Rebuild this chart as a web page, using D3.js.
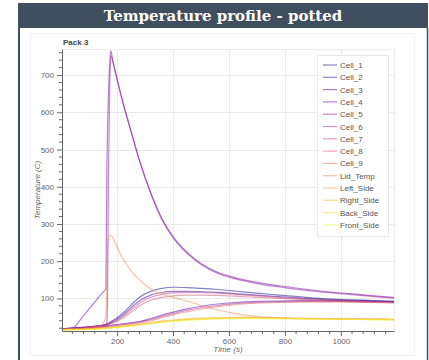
<!DOCTYPE html>
<html>
<head>
<meta charset="utf-8">
<script src="https://cdn.jsdelivr.net/npm/d3@7"></script>
<style>
  html, body { margin: 0; padding: 0; background: #ffffff; }
  svg { display: block; }
</style>
</head>
<body>
<svg id="chart" width="429" height="360"></svg>
<script>
// Sample times (s)
const times = [3, 40, 80, 120, 140, 155, 160, 163, 166, 169, 173, 177, 185, 200, 220, 250, 280, 320, 360, 400, 450, 500, 560, 620, 700, 780, 860, 950, 1040, 1120, 1190];

// Temperatures (C) per sensor
const cell1 = [18, 20, 22, 25, 27, 29, 30, 31, 32, 33, 35, 37, 41, 48, 60, 82, 103, 119, 127, 130, 129, 127, 124, 120, 114, 109, 104, 99, 96, 94, 92];
const cell2 = [18, 20, 22, 25, 27, 28, 29, 30, 31, 32, 33, 35, 38, 44, 55, 75, 94, 109, 116, 119, 119, 118, 116, 113, 109, 105, 101, 97, 95, 93, 91];
const cell3 = [17, 19, 21, 23, 24, 25, 26, 26, 27, 27, 28, 28, 29, 30, 32, 35, 38, 46, 55, 63, 72, 79, 85, 89, 92, 93, 94, 94, 93, 93, 92];
const cell4 = [18, 20, 54, 90, 108, 121, 126, 420, 560, 650, 720, 766, 738, 690, 630, 550, 472, 385, 315, 266, 224, 194, 170, 156, 143, 134, 126, 118, 112, 107, 103];
const cell5 = [18, 20, 22, 25, 27, 29, 31, 33, 120, 420, 640, 752, 734, 687, 627, 547, 469, 382, 312, 263, 221, 191, 167, 153, 140, 131, 123, 116, 110, 105, 101];
const cell6 = [17, 18, 20, 22, 23, 24, 24, 25, 25, 26, 26, 27, 27, 28, 30, 33, 36, 43, 51, 59, 68, 75, 81, 86, 89, 91, 92, 92, 92, 91, 91];
const cell7 = [17, 19, 21, 24, 26, 27, 28, 29, 30, 31, 32, 33, 36, 41, 51, 69, 87, 103, 111, 115, 116, 116, 114, 111, 107, 103, 99, 96, 93, 91, 89];
const cell8 = [17, 19, 21, 24, 25, 26, 27, 28, 29, 30, 31, 32, 34, 38, 47, 63, 80, 95, 103, 107, 109, 109, 108, 106, 103, 100, 97, 94, 91, 89, 87];
const cell9 = [16, 18, 19, 21, 22, 23, 23, 24, 24, 24, 25, 25, 26, 27, 29, 31, 34, 40, 48, 56, 64, 71, 78, 83, 87, 89, 90, 90, 90, 89, 89];
const lidTemp = [17, 18, 19, 21, 25, 40, 50, 120, 240, 258, 267, 271, 262, 238, 208, 174, 150, 126, 112, 103, 93, 81, 69, 60, 51, 48, 46, 46, 45, 44, 43];
const leftSide = [17, 17, 18, 19, 20, 21, 21, 21, 22, 22, 22, 22, 23, 24, 26, 28, 31, 35, 39, 42, 45, 47, 48, 49, 49, 48, 47, 46, 45, 45, 44];
const rightSide = [16, 17, 17, 18, 19, 20, 20, 20, 21, 21, 21, 21, 22, 23, 25, 27, 30, 34, 37, 40, 43, 45, 47, 47, 48, 47, 46, 45, 44, 44, 43];
const backSide = [16, 16, 17, 18, 19, 19, 20, 20, 20, 20, 21, 21, 22, 23, 24, 26, 29, 33, 37, 40, 43, 45, 46, 47, 47, 46, 46, 45, 44, 43, 43];
const frontSide = [15, 16, 16, 17, 18, 18, 19, 19, 19, 19, 20, 20, 21, 22, 23, 25, 28, 32, 35, 38, 41, 43, 45, 46, 46, 46, 45, 44, 44, 43, 42];

const seriesNames = ["Cell_1", "Cell_2", "Cell_3", "Cell_4", "Cell_5", "Cell_6", "Cell_7", "Cell_8", "Cell_9",
                     "Lid_Temp", "Left_Side", "Right_Side", "Back_Side", "Front_Side"];
const seriesValues = [cell1, cell2, cell3, cell4, cell5, cell6, cell7, cell8, cell9,
                      lidTemp, leftSide, rightSide, backSide, frontSide];

const xTicks = [200, 400, 600, 800, 1000];
const yTicks = [100, 200, 300, 400, 500, 600, 700];
const xDomain = [3, 1190];
const yDomain = [12.5, 770];

const svg = d3.select("#chart");
const W = 429, H = 360;
const sans = "'Liberation Sans', Arial, sans-serif";

// Page background, title banner and panel frame
svg.append("rect").attr("width", W).attr("height", H).attr("fill", "#ffffff");
svg.append("rect").attr("x", 18).attr("y", 3).attr("width", 410).attr("height", 25).attr("fill", "#3f4f60");
svg.append("text")
  .attr("x", 223).attr("y", 21)
  .attr("text-anchor", "middle")
  .attr("fill", "#ffffff")
  .style("font-family", "'DejaVu Serif', serif")
  .style("font-weight", "bold")
  .style("font-size", "15px")
  .text("Temperature profile - potted");
svg.append("line").attr("x1", 19).attr("x2", 19).attr("y1", 28).attr("y2", H)
  .attr("stroke", "#3f4f60").attr("stroke-width", 2);
svg.append("line").attr("x1", 427.5).attr("x2", 427.5).attr("y1", 28).attr("y2", H)
  .attr("stroke", "#3f4f60").attr("stroke-width", 1.5);

// Figure canvas outline
svg.append("rect").attr("x", 30.5).attr("y", 33.5).attr("width", 384).attr("height", 322)
  .attr("fill", "none").attr("stroke", "#f2f2f2");

const plot = { left: 62, right: 394, top: 49, bottom: 331 };
const x = d3.scaleLinear().domain(xDomain).range([plot.left, plot.right]);
const y = d3.scaleLinear().domain(yDomain).range([plot.bottom, plot.top]);

// Grid
const grid = svg.append("g");
grid.selectAll(".gy").data(yTicks).join("line")
  .attr("x1", plot.left).attr("x2", plot.right)
  .attr("y1", d => Math.round(y(d)) + 0.5).attr("y2", d => Math.round(y(d)) + 0.5)
  .attr("stroke", "#e9e9e9");
grid.selectAll(".gx").data(xTicks).join("line")
  .attr("x1", d => Math.round(x(d)) + 0.5).attr("x2", d => Math.round(x(d)) + 0.5)
  .attr("y1", plot.top).attr("y2", plot.bottom)
  .attr("stroke", "#e9e9e9");
svg.append("rect").attr("x", plot.left + 0.5).attr("y", plot.top + 0.5)
  .attr("width", plot.right - plot.left).attr("height", plot.bottom - plot.top)
  .attr("fill", "none").attr("stroke", "#ececec");

// Lines
const color = i => d3.interpolatePlasma(i / (seriesNames.length - 1));
const line = d3.line()
  .x(d => x(d[0]))
  .y(d => y(d[1]))
  .curve(d3.curveMonotoneX);

svg.append("defs").append("clipPath").attr("id", "plotClip")
  .append("rect").attr("x", plot.left).attr("y", plot.top - 2)
  .attr("width", plot.right - plot.left).attr("height", plot.bottom - plot.top + 2);

const lines = svg.append("g").attr("clip-path", "url(#plotClip)");
seriesValues.forEach((vals, i) => {
  lines.append("path")
    .datum(times.map((t, k) => [t, vals[k]]))
    .attr("fill", "none")
    .attr("stroke", color(i))
    .attr("stroke-opacity", 0.5)
    .attr("stroke-width", 1.2)
    .attr("d", line);
});

// Axes
const axisColor = "#666";
const minorY = d3.range(20, 770, 20).filter(v => v % 100 !== 0);
const minorX = d3.range(40, 1190, 40).filter(v => v % 200 !== 0);

const yAxis = svg.append("g").attr("transform", `translate(${plot.left},0)`);
yAxis.selectAll(".minor").data(minorY).join("line")
  .attr("x1", 0).attr("x2", -3)
  .attr("y1", d => y(d)).attr("y2", d => y(d))
  .attr("stroke", axisColor);
yAxis.call(d3.axisLeft(y).tickValues(yTicks).tickFormat(d3.format("d")).tickSize(5).tickPadding(3).tickSizeOuter(0));

const xAxis = svg.append("g").attr("transform", `translate(0,${plot.bottom})`);
xAxis.selectAll(".minor").data(minorX).join("line")
  .attr("x1", d => x(d)).attr("x2", d => x(d))
  .attr("y1", 0).attr("y2", 3)
  .attr("stroke", axisColor);
xAxis.call(d3.axisBottom(x).tickValues(xTicks).tickFormat(d3.format("d")).tickSize(5).tickPadding(2).tickSizeOuter(0));

[yAxis, xAxis].forEach(g => {
  g.select(".domain").attr("stroke", axisColor);
  g.selectAll(".tick line").attr("stroke", axisColor);
  g.selectAll(".tick text").attr("fill", "#666").style("font-family", sans).style("font-size", "8px");
});

// Titles
svg.append("text")
  .attr("x", 63).attr("y", 45)
  .attr("fill", "#444")
  .style("font-family", sans).style("font-weight", "bold").style("font-size", "8px")
  .text("Pack 3");
svg.append("text")
  .attr("transform", `translate(40,${(plot.top + plot.bottom) / 2}) rotate(-90)`)
  .attr("text-anchor", "middle")
  .attr("fill", "#666")
  .style("font-family", sans).style("font-style", "italic").style("font-size", "8px")
  .text("Temperature (C)");
svg.append("text")
  .attr("x", (plot.left + plot.right) / 2).attr("y", 352)
  .attr("text-anchor", "middle")
  .attr("fill", "#666")
  .style("font-family", sans).style("font-style", "italic").style("font-size", "8px")
  .text("Time (s)");

// Legend
const legend = svg.append("g");
legend.append("rect").attr("x", 317.5).attr("y", 55.5).attr("width", 71).attr("height", 181)
  .attr("fill", "#ffffff").attr("stroke", "#e8e8e8");
const items = legend.selectAll(".item").data(seriesNames).join("g")
  .attr("transform", (d, i) => `translate(0,${65 + i * 12.3})`);
items.append("line")
  .attr("x1", 323).attr("x2", 337).attr("y1", 0).attr("y2", 0)
  .attr("stroke", (d, i) => color(i)).attr("stroke-opacity", 0.5).attr("stroke-width", 1.2);
items.append("text")
  .attr("x", 340).attr("y", 3)
  .attr("fill", "#555")
  .style("font-family", sans).style("font-size", "8px")
  .text(d => d);
</script>
</body>
</html>
